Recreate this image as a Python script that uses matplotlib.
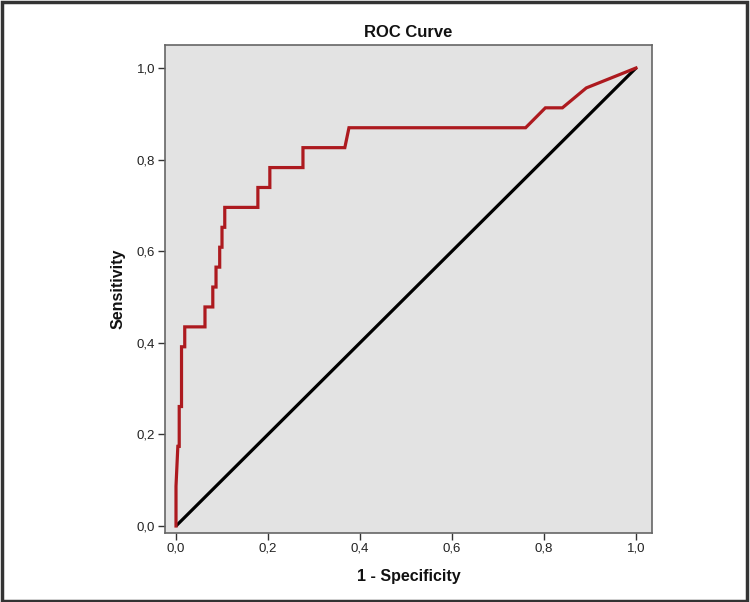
import matplotlib
matplotlib.use('Agg')
import matplotlib.pyplot as plt
from matplotlib.patches import Rectangle

plt.rcParams['font.family'] = ['Liberation Sans', 'DejaVu Sans']

# ROC curve vertices (23 positives -> steps of 1/23)
fpr = [0.000, 0.000, 0.002, 0.004, 0.007, 0.007, 0.012, 0.012, 0.019, 0.019,
       0.063, 0.063, 0.080, 0.080, 0.087, 0.087, 0.095, 0.095, 0.100, 0.100,
       0.106, 0.106, 0.178, 0.178, 0.204, 0.204, 0.276, 0.276, 0.367, 0.376,
       0.760, 0.803, 0.840, 0.892, 1.000]
tpr_counts = [0, 2, 3, 4, 4, 6, 6, 9, 9, 10,
              10, 11, 11, 12, 12, 13, 13, 14, 14, 15,
              15, 16, 16, 17, 17, 18, 18, 19, 19, 20,
              20, 21, 21, 22, 23]
n_pos = 23
tpr = [c / n_pos for c in tpr_counts]

ref_x = [0.0, 1.0]
ref_y = [0.0, 1.0]

ticks = [0.0, 0.2, 0.4, 0.6, 0.8, 1.0]
tick_labels = ['0,0', '0,2', '0,4', '0,6', '0,8', '1,0']

fig = plt.figure(figsize=(7.5, 6.02), dpi=100)
ax = fig.add_axes([165/750, 1 - 533/602, 487/750, 488/602])
ax.set_facecolor('#e3e3e3')

ax.plot(ref_x, ref_y, color='black', lw=2.3, solid_capstyle='butt', zorder=2)
ax.plot(fpr, tpr, color='#ad1a1f', lw=2.3, solid_joinstyle='miter', zorder=3)

ax.set_xlim(-11/460, 1 + 16/460)
ax.set_ylim(-7/458, 1 + 23/458)
ax.set_xticks(ticks)
ax.set_xticklabels(tick_labels)
ax.set_yticks(ticks)
ax.set_yticklabels(tick_labels)
ax.tick_params(direction='out', length=5, width=1, color='#333333',
               labelsize=9.5, labelcolor='#222222', pad=2)

for s in ax.spines.values():
    s.set_color('#666666')
    s.set_linewidth(1.2)

ax.set_title('ROC Curve', fontsize=12, fontweight='bold', color='#111111', pad=6)
ax.set_xlabel('1 - Specificity', fontsize=11.5, fontweight='bold', color='#111111', labelpad=10)
ax.set_ylabel('Sensitivity', fontsize=11.5, fontweight='bold', color='#111111', labelpad=8)

# dark frame around the whole picture
fig.patches.append(Rectangle((0.002, 0.002), 0.994, 0.994, transform=fig.transFigure,
                             fill=False, edgecolor='#333333', lw=2.5))

fig.savefig('out.png', dpi=100)
plt.close(fig)
